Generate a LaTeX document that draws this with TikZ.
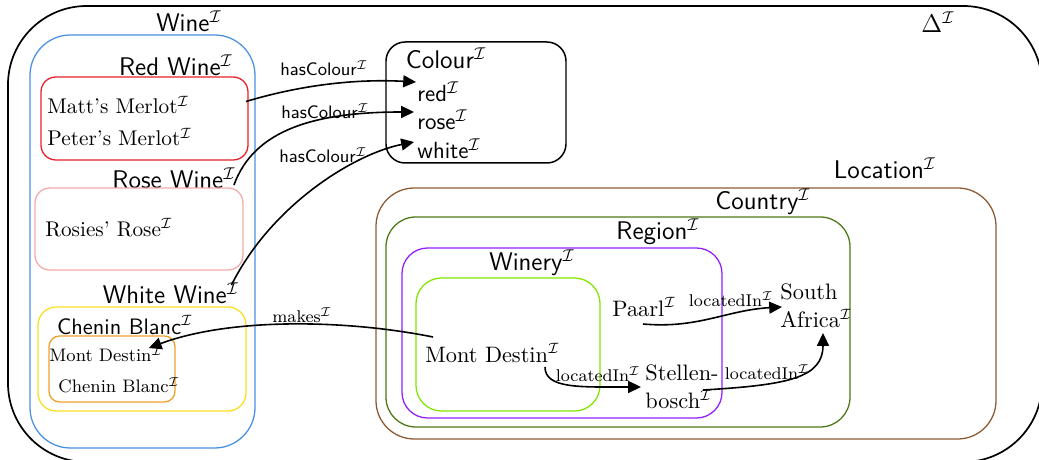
\documentclass[tikz,border=0pt]{standalone}
\usetikzlibrary{calc,fit,arrows.meta}
\definecolor{wineblue}{RGB}{74,144,226}
\definecolor{redwine}{RGB}{232,30,40}
\definecolor{rosewine}{RGB}{242,170,170}
\definecolor{whitewine}{RGB}{248,222,30}
\definecolor{chenin}{RGB}{240,160,40}
\definecolor{countrybrown}{RGB}{140,90,50}
\definecolor{regiongreen}{RGB}{75,120,20}
\definecolor{wineryviolet}{RGB}{145,30,255}
\definecolor{estategreen}{RGB}{128,230,0}
\newcommand{\itp}{$^{\mathcal{I}}$}
\begin{document}
\begin{tikzpicture}[x=0.47pt,y=-0.47pt,
  frame/.style={draw,inner sep=0pt,outer sep=0pt,line width=0.6pt},
  setlabel/.style={font=\sffamily\large,inner sep=0pt},
  member/.style={font=\fontsize{10.5}{13}\selectfont,inner sep=0pt,anchor=west,align=left},
  colourval/.style={font=\sffamily\fontsize{11}{13}\selectfont,inner sep=0pt,anchor=west},
  rolelabel/.style={font=\sffamily\fontsize{8.5}{10}\selectfont,inner sep=0pt},
  rellabel/.style={font=\footnotesize,inner sep=0pt},
  rel/.style={line width=0.75pt,-{Triangle[length=6pt,width=5.6pt]}}]
\useasboundingbox (0,0) rectangle (1039,460);
\clip (0,0) rectangle (1039,460);

% domain
\node[frame,line width=0.8pt,rounded corners=37pt,fit={(8,6)(1042,462)}] (domain) {};
\node[font=\large,inner sep=0pt] (deltalbl) at (938,22) {$\Delta^{\mathcal{I}}$};

% wines
\node[frame,draw=wineblue,rounded corners=19pt,fit={(30,35)(255,448)}] (winebox) {};
\node[setlabel] (winelbl) at (189,21) {Wine\itp};
\node[setlabel] (redlbl) at (176,65) {Red Wine\itp};
\node[frame,draw=redwine,rounded corners=7pt,fit={(41,77)(248,160)}] (redbox) {};
\node[member,font=\normalsize] (matt) at (47,105) {Matt's Merlot\itp};
\node[member,font=\normalsize] (peter) at (47,137) {Peter's Merlot\itp};
\node[setlabel] (roselbl) at (174,178) {Rose Wine\itp};
\node[frame,draw=rosewine,rounded corners=7pt,fit={(35,188)(243,270)}] (rosebox) {};
\node[member,font=\normalsize] (rosies) at (45,228) {Rosies' Rose\itp};
\node[setlabel] (whitelbl) at (171,293) {White Wine\itp};
\node[frame,draw=whitewine,rounded corners=8.5pt,fit={(38,307)(246,411)}] (whitebox) {};
\node[setlabel,font=\sffamily\fontsize{10.5}{12}\selectfont] (cheninlbl) at (125,325) {Chenin Blanc\itp};
\node[frame,draw=chenin,rounded corners=5pt,fit={(49,336)(175,402)}] (cheninbox) {};
\node[member,font=\fontsize{8.5}{10}\selectfont] (mdsmall) at (49,354) {Mont Destin\itp};
\node[member,font=\fontsize{8.5}{10}\selectfont] (cbsmall) at (58,385) {Chenin Blanc\itp};

% colours
\node[frame,line width=0.7pt,rounded corners=9pt,fit={(386,42)(566,163)}] (colourbox) {};
\node[setlabel] (colourlbl) at (446,58) {Colour\itp};
\node[colourval] (red) at (417,92) {red\itp};
\node[colourval] (rose) at (417,120) {rose\itp};
\node[colourval] (white) at (417,149) {white\itp};

% locations
\node[setlabel] (locationlbl) at (885,168) {Location\itp};
\node[frame,draw=countrybrown,rounded corners=18pt,fit={(376,188)(996,439)}] (countrybox) {};
\node[setlabel] (countrylbl) at (763,202) {Country\itp};
\node[frame,draw=regiongreen,rounded corners=14pt,fit={(386,217)(850,427)}] (regionbox) {};
\node[setlabel] (regionlbl) at (658,232) {Region\itp};
\node[frame,draw=wineryviolet,rounded corners=12pt,fit={(402,248)(722,418)}] (winerybox) {};
\node[setlabel] (winerylbl) at (532,263) {Winery\itp};
\node[frame,draw=estategreen,rounded corners=12pt,fit={(416,278)(600,411)}] (estatebox) {};
\node[member] (mdbig) at (425,353) {Mont Destin\itp};
\node[member] (paarl) at (612,307) {Paarl\itp};
\node[member] (sa) at (780,306) {South\\Africa\itp};
\node[member] (stellen) at (645,387) {Stellen-\\bosch\itp};

% hasColour
\draw[rel] ($(redbox.east)+(-2,-17)$) .. controls +(60,-18) and +(-55,-3) .. ($(red.west)+(-1,-10)$);
\node[rolelabel] (hc1) at (324,68) {hasColour\itp};
\draw[rel] ($(roselbl.east)+(-2,7)$) .. controls +(20,-55) and +(-100,0) .. ($(rose.west)+(-3,-8)$);
\node[rolelabel] (hc2) at (325,111) {hasColour\itp};
\draw[rel] ($(whitelbl.east)+(-8,-8)$) .. controls +(40,-80) and +(-60,12) .. ($(white.west)+(-3,-7)$);
\node[rolelabel] (hc3) at (323,155) {hasColour\itp};

% makes
\draw[rel] ($(mdbig.west)+(8,-16)$) .. controls +(-90,-18) and +(80,-30) .. ($(mdsmall.east)+(-14,-6)$);
\node[rellabel] (makeslbl) at (302,315) {makes\itp};

% locatedIn
\draw[rel] ($(mdbig.west)+(120,14)$) .. controls +(0,22) and +(-60,0) .. ($(stellen.west)+(-4,0)$);
\node[rellabel] (li1) at (598,374) {locatedIn\itp};
\draw[rel] ($(paarl.west)+(31,17)$) .. controls +(55,5) and +(-55,3) .. ($(sa.west)+(2,1)$);
\node[rellabel] (li2) at (731,299) {locatedIn\itp};
\draw[rel] ($(stellen.west)+(58,3)$) .. controls +(85,-5) and +(0,45) .. ($(sa.west)+(43,27)$);
\node[rellabel] (li3) at (767,372) {locatedIn\itp};
\end{tikzpicture}
\end{document}
